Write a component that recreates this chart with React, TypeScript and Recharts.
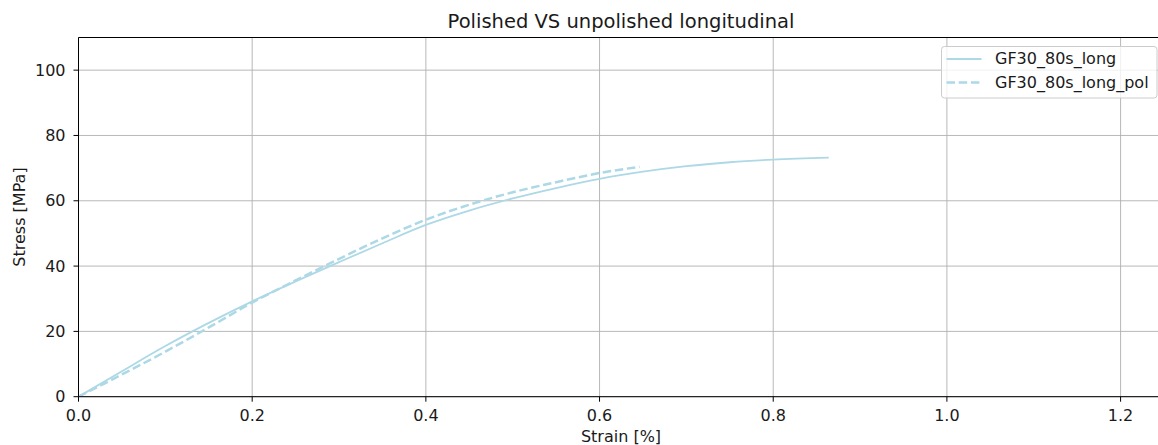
import React from "react";
import { LineChart, Line, XAxis, YAxis, CartesianGrid, ReferenceLine } from "recharts";

const title = "Polished VS unpolished longitudinal";
const xLabel = "Strain [%]";
const yLabel = "Stress [MPa]";

const seriesNames = ["GF30_80s_long", "GF30_80s_long_pol"];

const longStrain = [0, 0.05, 0.1, 0.15, 0.2, 0.25, 0.3, 0.35, 0.4, 0.45, 0.5, 0.55, 0.6, 0.65, 0.7, 0.75, 0.8, 0.864];
const longStress = [0, 7.8, 15.5, 22.6, 29.2, 35.3, 41.2, 47.0, 52.6, 57.0, 60.7, 63.9, 66.7, 68.9, 70.6, 71.8, 72.6, 73.2];

const polStrain = [0, 0.05, 0.1, 0.15, 0.2, 0.25, 0.3, 0.35, 0.4, 0.45, 0.5, 0.55, 0.6, 0.646];
const polStress = [0, 6.8, 13.8, 21.2, 28.8, 35.6, 42.2, 48.5, 54.2, 58.8, 62.6, 65.7, 68.5, 70.4];

const xTicks = [0, 0.2, 0.4, 0.6, 0.8, 1.0, 1.2];
const yTicks = [0, 20, 40, 60, 80, 100];
const xDomain = [0, 1.25];
const yDomain = [0, 110];

const longData = longStrain.map((x, i) => ({ x, y: longStress[i] }));
const polData = polStrain.map((x, i) => ({ x, y: polStress[i] }));

const COLOR = "#add8e6";
const FONT = "'DejaVu Sans', sans-serif";
const TEXT = "#1a1a1a";

export default function App() {
  return (
    <div style={{ position: "absolute", left: 0, top: 0, width: 1158, height: 445, overflow: "hidden", background: "#fff" }}>
      <LineChart
        width={1180}
        height={445}
        margin={{ top: 37.5, right: 16, bottom: 0, left: 0 }}
        style={{ fontFamily: FONT }}
      >
        <CartesianGrid stroke="#b0b0b0" strokeWidth={0.9} />
        <XAxis
          dataKey="x"
          type="number"
          domain={xDomain}
          ticks={xTicks}
          allowDataOverflow
          tickFormatter={(v: number) => v.toFixed(1)}
          height={48.3}
          tickSize={5}
          tickMargin={8}
          stroke="#000"
          axisLine={{ stroke: "#000", strokeWidth: 1 }}
          tickLine={{ stroke: "#000", strokeWidth: 1 }}
          tick={{ fontSize: 16, fill: TEXT, fontFamily: FONT }}
        />
        <YAxis
          type="number"
          domain={yDomain}
          ticks={yTicks}
          allowDataOverflow
          width={78.5}
          tickSize={5}
          tickMargin={8}
          stroke="#000"
          axisLine={{ stroke: "#000", strokeWidth: 1 }}
          tickLine={{ stroke: "#000", strokeWidth: 1 }}
          tick={{ fontSize: 16, fill: TEXT, fontFamily: FONT }}
        />
        <ReferenceLine y={110} stroke="#000" strokeWidth={1} ifOverflow="visible" />
        <ReferenceLine x={1.25} stroke="#000" strokeWidth={1} ifOverflow="visible" />
        <Line
          data={longData}
          dataKey="y"
          name={seriesNames[0]}
          type="monotone"
          stroke={COLOR}
          strokeWidth={1.8}
          dot={false}
          activeDot={false}
          isAnimationActive={false}
        />
        <Line
          data={polData}
          dataKey="y"
          name={seriesNames[1]}
          type="monotone"
          stroke={COLOR}
          strokeWidth={2.5}
          strokeDasharray="8.5 3.7"
          dot={false}
          activeDot={false}
          isAnimationActive={false}
        />
      </LineChart>
      <svg
        width={1158}
        height={445}
        style={{ position: "absolute", left: 0, top: 0, pointerEvents: "none", fontFamily: FONT }}
      >
        <text x={621} y={28} textAnchor="middle" fontSize={19.5} fill={TEXT}>{title}</text>
        <text x={621} y={442} textAnchor="middle" fontSize={16} fill={TEXT}>{xLabel}</text>
        <text
          x={0}
          y={0}
          transform="translate(24.5,217) rotate(-90)"
          textAnchor="middle"
          fontSize={16}
          fill={TEXT}
        >
          {yLabel}
        </text>
        <rect x={941.5} y={46.5} width={215.5} height={51.5} rx={3} fill="#fff" fillOpacity={0.8} stroke="#cccccc" strokeWidth={1} />
        <line x1={946.5} y1={59} x2={981.5} y2={59} stroke={COLOR} strokeWidth={1.8} />
        <text x={995} y={64} fontSize={16} fill={TEXT}>{seriesNames[0]}</text>
        <line x1={946.5} y1={82.5} x2={981.5} y2={82.5} stroke={COLOR} strokeWidth={2.5} strokeDasharray="8.5 3.7" />
        <text x={995} y={87.5} fontSize={16} fill={TEXT}>{seriesNames[1]}</text>
      </svg>
    </div>
  );
}
